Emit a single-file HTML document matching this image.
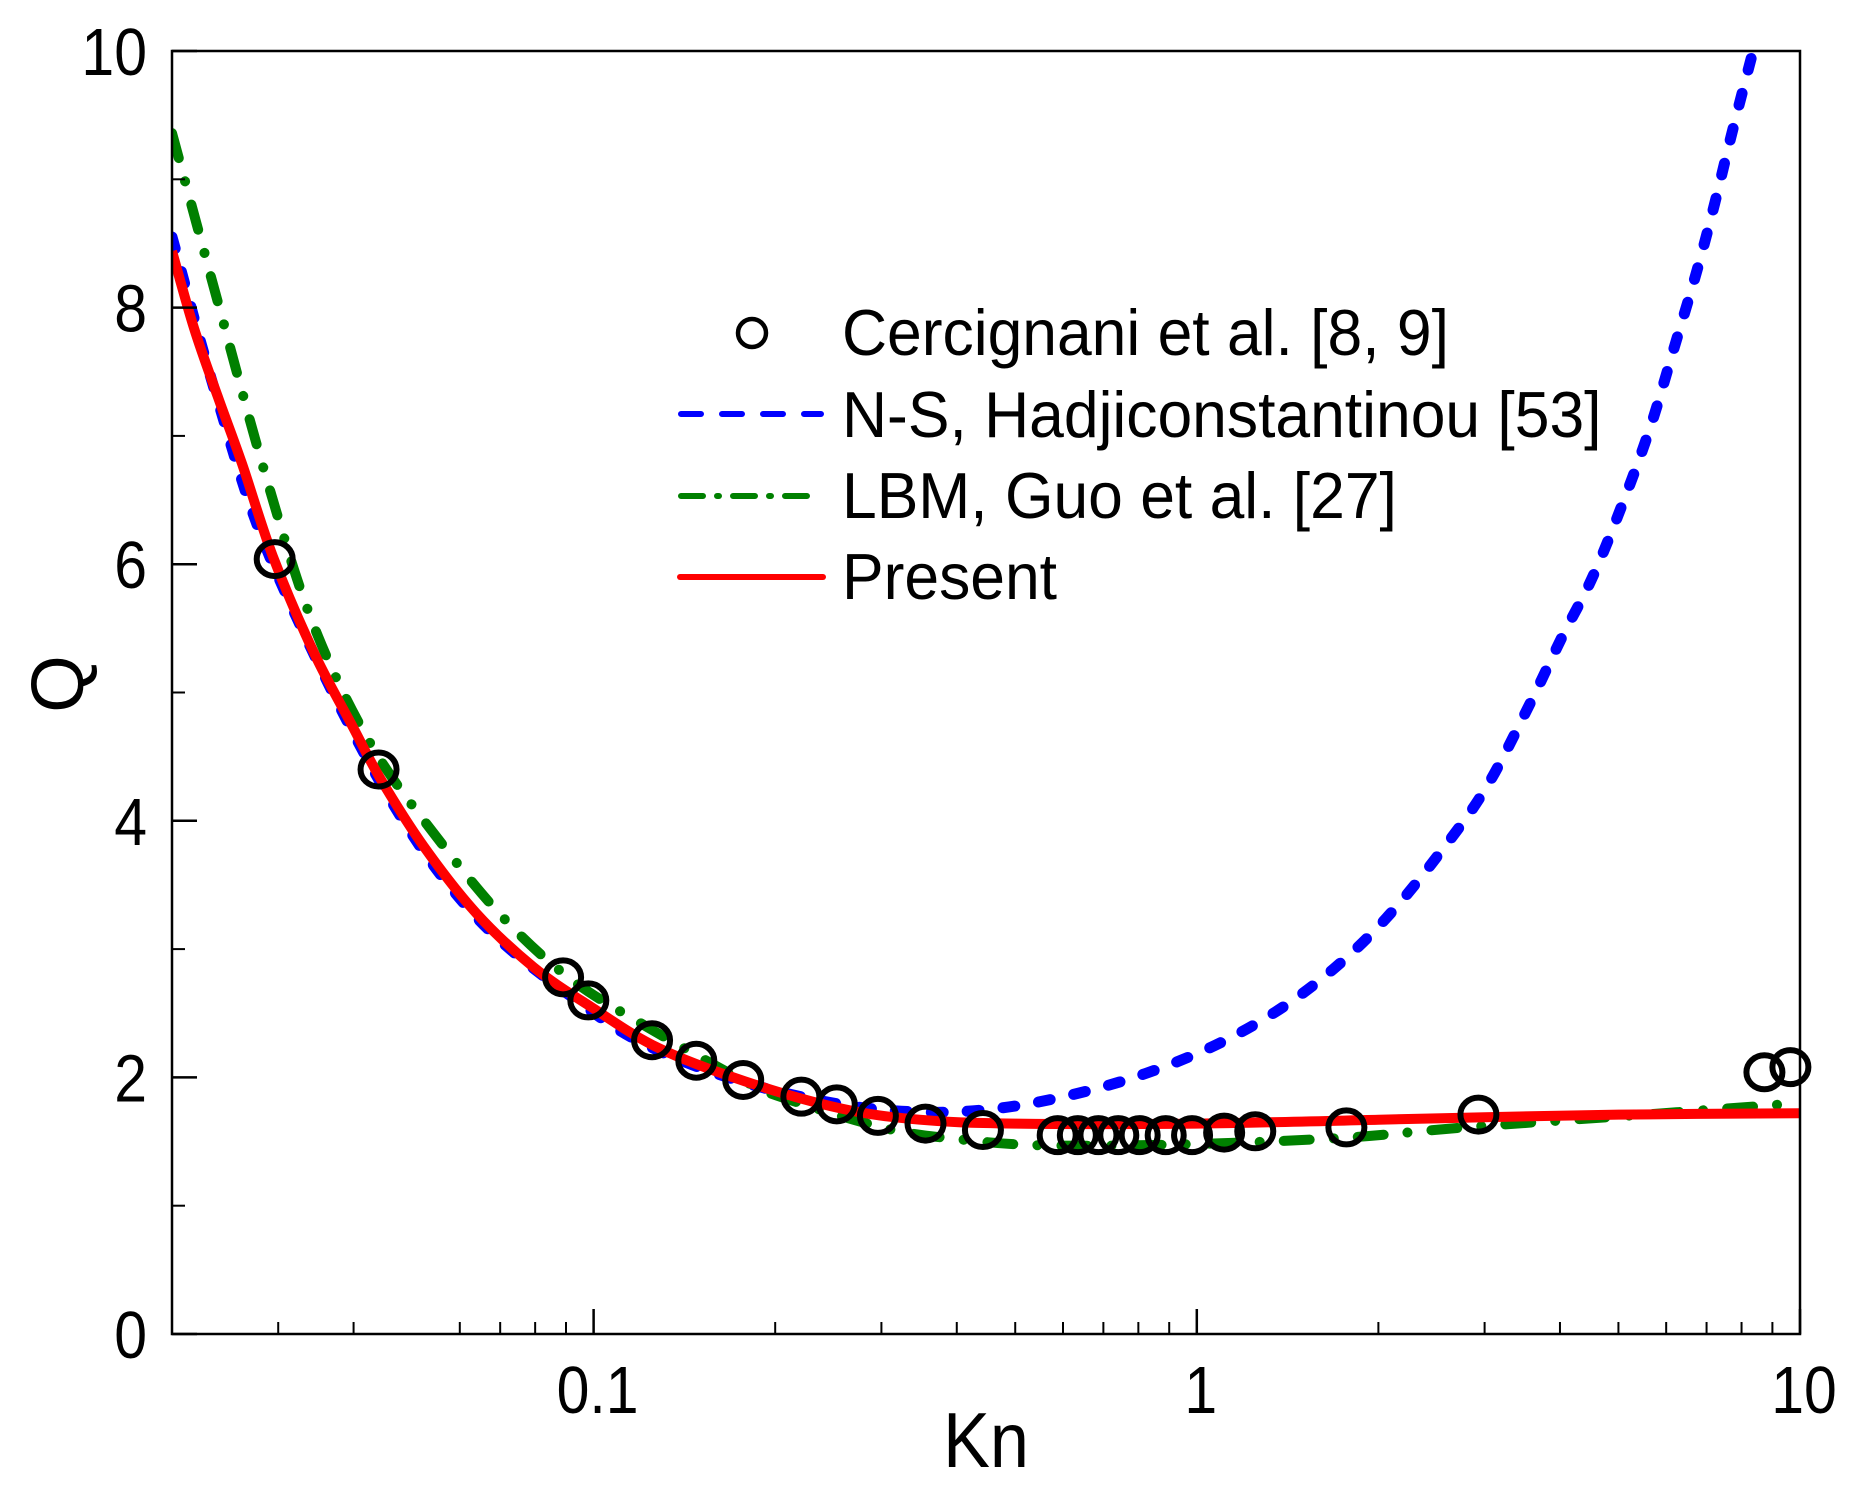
<!DOCTYPE html>
<html><head><meta charset="utf-8"><style>
html,body{margin:0;padding:0;background:#fff;}
svg{display:block;font-family:"Liberation Sans",Arial,sans-serif;}
</style></head><body>
<svg id="chart" width="1864" height="1487" viewBox="0 0 1864 1487" xmlns="http://www.w3.org/2000/svg">
<rect width="1864" height="1487" fill="#fff"/>
<g id="curves"></g>
<g id="axes"></g>
<g id="legend"></g>
</svg>
<script>
// ---- data ----
const cercKn = [0.0296,0.044,0.089,0.098,0.125,0.148,0.177,0.221,0.253,0.296,0.355,0.442,0.588,0.635,0.687,0.741,0.804,0.888,0.982,1.11,1.25,1.77,2.93,8.73,9.64];
const cercQ  = [6.04,4.40,2.78,2.60,2.29,2.13,1.98,1.85,1.79,1.70,1.64,1.59,1.55,1.55,1.55,1.55,1.55,1.55,1.55,1.57,1.58,1.61,1.71,2.04,2.08];
const nsKn = [0.02,0.0238,0.0294,0.0443,0.0639,0.099,0.128,0.178,0.256,0.347,0.451,0.589,0.787,1.05,1.35,1.69,2.06,2.52,3.01,3.53,4.03,4.51,5.05,5.64,6.17,6.75,7.21,7.71,8.36];
const nsQ  = [8.55,7.28,6.00,4.30,3.25,2.52,2.21,1.96,1.79,1.73,1.75,1.84,2.00,2.23,2.51,2.85,3.24,3.74,4.25,4.87,5.43,5.88,6.44,7.06,7.67,8.29,8.80,9.36,10.0];
const lbmKn = [0.02,0.0238,0.0286,0.0343,0.0428,0.0552,0.0713,0.092,0.123,0.178,0.213,0.307,0.40,0.56,0.986,1.76,2.78,5.9,10];
const lbmQ  = [9.36,8.05,6.69,5.53,4.59,3.86,3.23,2.76,2.39,1.97,1.82,1.60,1.52,1.47,1.48,1.53,1.61,1.72,1.80];
const presKn = [0.02,0.02175,0.0238,0.0261,0.0294,0.0343,0.0397,0.0443,0.0523,0.0639,0.0795,0.099,0.128,0.178,0.256,0.347,0.5,1,2,3,5,10];
const presQ  = [8.44,7.84,7.31,6.79,6.06,5.32,4.75,4.33,3.80,3.28,2.86,2.55,2.23,1.97,1.76,1.67,1.64,1.64,1.67,1.69,1.71,1.72];
const yTicks = [0,2,4,6,8,10];
const yMinor = [1,3,5,7,9];
const xTicks = [0.1,1,10];
const xTickLabels = ["0.1","1","10"];
const xMinor = [0.03,0.04,0.06,0.07,0.08,0.09,2e-1,3e-1,4e-1,5e-1,6e-1,7e-1,8e-1,9e-1,2,3,4,5,6,7,8,9];
const yTickLabels = ["0","2","4","6","8","10"];

// ---- scales ----
const L=172,R=1800,T=51,B=1334;
const lmin=Math.log10(0.02), lmax=1;
function sx(v){return L+(Math.log10(v)-lmin)/(lmax-lmin)*(R-L);}
function sy(v){return B-(v/10)*(B-T);}
const NS="http://www.w3.org/2000/svg";
function mk(tag,attrs,parent){const e=document.createElementNS(NS,tag);for(const k in attrs)e.setAttribute(k,attrs[k]);parent.appendChild(e);return e;}

function smooth(xs,ys){
  const p=xs.map((x,i)=>[sx(x),sy(ys[i])]);
  let d="M"+p[0][0].toFixed(1)+","+p[0][1].toFixed(1);
  for(let i=0;i<p.length-1;i++){
    const p0=p[Math.max(0,i-1)],p1=p[i],p2=p[i+1],p3=p[Math.min(p.length-1,i+2)];
    const c1=[p1[0]+(p2[0]-p0[0])/6,p1[1]+(p2[1]-p0[1])/6];
    const c2=[p2[0]-(p3[0]-p1[0])/6,p2[1]-(p3[1]-p1[1])/6];
    d+=" C"+c1[0].toFixed(1)+","+c1[1].toFixed(1)+" "+c2[0].toFixed(1)+","+c2[1].toFixed(1)+" "+p2[0].toFixed(1)+","+p2[1].toFixed(1);
  }
  return d;
}
const svg=document.getElementById('chart');
const defs=mk('defs',{},svg);
const cp=mk('clipPath',{id:'clip'},defs);
mk('rect',{x:L,y:T,width:R-L,height:B-T},cp);
const cg=document.getElementById('curves');
cg.setAttribute('clip-path','url(#clip)');

const ns=mk('path',{d:smooth(nsKn,nsQ),fill:'none',stroke:'#0000ff','stroke-width':11,'stroke-dasharray':'12 24','stroke-linecap':'round'},cg);


const lb=mk('path',{d:smooth(lbmKn,lbmQ),fill:'none',stroke:'#008000','stroke-width':10,'stroke-dasharray':'26 24 0.1 24','stroke-linecap':'round'},cg);


const pr=mk('path',{d:smooth(presKn,presQ),fill:'none',stroke:'#ff0000','stroke-width':10},cg);


const mg=mk('g',{},svg);


cercKn.forEach((k,i)=>{
  const c=mk('ellipse',{cx:sx(k),cy:sy(cercQ[i]),rx:18,ry:17,fill:'none',stroke:'#000','stroke-width':6},mg);
  
  
});

// ---- axes ----
const ax=document.getElementById('axes');
const frame=mk('rect',{x:L,y:T,width:R-L,height:B-T,fill:'none',stroke:'#000','stroke-width':2.5},ax);


yTicks.forEach((v,i)=>{
  const y=sy(v);
  const t=mk('line',{x1:L,x2:L+25,y1:y,y2:y,stroke:'#000','stroke-width':2.5},ax);
  
  
  const tx=mk('text',{x:0,y:0,'text-anchor':'end','font-size':67,transform:'translate(147,'+(y+24)+') scale(0.88,1)'},ax);
  tx.textContent=yTickLabels[i];
  
  
});
yMinor.forEach(v=>{
  const y=sy(v);
  const t=mk('line',{x1:L,x2:L+13,y1:y,y2:y,stroke:'#000','stroke-width':2},ax);
  
  
});
xTicks.forEach((v,i)=>{
  const x=sx(v);
  const t=mk('line',{x1:x,x2:x,y1:B,y2:B-25,stroke:'#000','stroke-width':2.5},ax);
  
  
  const tx=mk('text',{x:0,y:0,'text-anchor':'middle','font-size':67,transform:'translate('+(x+4)+',1413) scale(0.88,1)'},ax);
  tx.textContent=xTickLabels[i];
  
  
});
xMinor.forEach(v=>{
  const x=sx(v);
  const t=mk('line',{x1:x,x2:x,y1:B,y2:B-12,stroke:'#000','stroke-width':2},ax);
  
  
});
const xt=mk('text',{x:0,y:0,'text-anchor':'middle','font-size':78,transform:'translate(986,1467) scale(0.9,1)'},ax);
xt.textContent='Kn';


const yt=mk('text',{x:0,y:0,'text-anchor':'middle','font-size':74,transform:'translate(83,684) rotate(-90)'},ax);
yt.textContent='Q';



// ---- legend ----
const lg=document.getElementById('legend');
const labels=['Cercignani et al. [8, 9]','N-S, Hadjiconstantinou [53]','LBM, Guo et al. [27]','Present'];
const rowY=[333,414,496,577];
const baseY=[355,437,518,599];
const lc=mk('circle',{cx:752,cy:rowY[0],r:14,fill:'none',stroke:'#000','stroke-width':4.5},lg);


const l1=mk('line',{x1:681,x2:821,y1:rowY[1],y2:rowY[1],stroke:'#0000ff','stroke-width':6,'stroke-dasharray':'20 21','stroke-linecap':'round'},lg);


const l2=mk('line',{x1:681,x2:821,y1:rowY[2],y2:rowY[2],stroke:'#008000','stroke-width':6,'stroke-dasharray':'22 14 2 14','stroke-linecap':'round'},lg);


const l3=mk('line',{x1:680,x2:823,y1:rowY[3],y2:rowY[3],stroke:'#ff0000','stroke-width':6,'stroke-linecap':'round'},lg);


labels.forEach((s,i)=>{
  const t=mk('text',{x:0,y:0,'font-size':65,transform:'translate(842,'+baseY[i]+') scale(0.96,1)'},lg);
  t.textContent=s;
  
  
});
</script>
</body></html>
